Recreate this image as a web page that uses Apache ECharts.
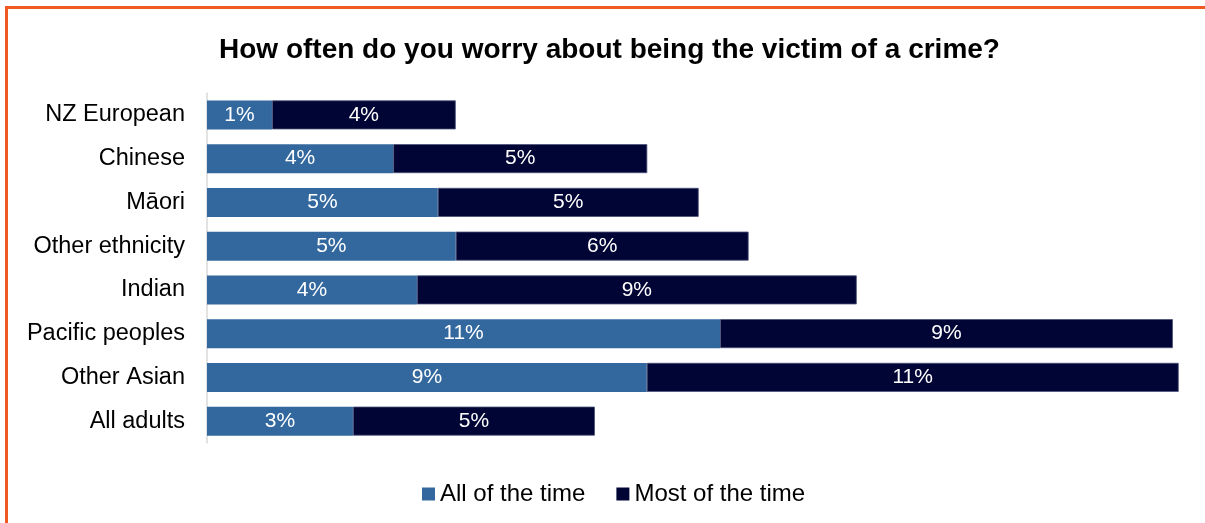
<!DOCTYPE html>
<html>
<head>
<meta charset="utf-8">
<script src="https://cdn.jsdelivr.net/npm/echarts@6/dist/echarts.min.js"></script>
<style>
html,body{margin:0;padding:0;background:#fff;}
#chart{width:1205px;height:523px;}
</style>
</head>
<body>
<div id="chart"></div>
<script>
const categories = ["NZ European","Chinese","Māori","Other ethnicity","Indian","Pacific peoples","Other Asian","All adults"];
const allOfTheTime = [1.34, 3.84, 4.76, 5.13, 4.33, 10.58, 9.07, 3.01];
const mostOfTheTime = [3.79, 5.24, 5.38, 6.04, 9.07, 9.34, 10.97, 4.99];
const seriesNames = ["All of the time","Most of the time"];

const chart = echarts.init(document.getElementById('chart'));
const font = 'Arial, "Liberation Sans", sans-serif';
const lbl = {
  show: true, position: 'inside', color: '#fff', fontSize: 21, fontFamily: font,
  formatter: p => Math.round(p.value) + '%'
};
chart.setOption({
  animation: false,
  title: {
    text: 'How often do you worry about being the victim of a crime?',
    left: 214, top: 31,
    textStyle: {fontSize: 28, fontWeight: 'bold', color: '#000', fontFamily: font}
  },
  graphic: [{
    type: 'rect', shape: {x: 6.5, y: 7.5, width: 1400, height: 700},
    style: {fill: 'none', stroke: '#F05A22', lineWidth: 3}, silent: true
  }],
  legend: {
    data: seriesNames, bottom: 12, left: 417, icon: 'rect',
    itemWidth: 13, itemHeight: 13, itemGap: 31,
    itemStyle: {borderWidth: 0},
    textStyle: {fontSize: 24, color: '#000', fontFamily: font}
  },
  grid: {left: 207, top: 93, height: 350, right: 4},
  xAxis: {type: 'value', min: 0, max: 20.5, show: false},
  yAxis: {
    type: 'category', data: categories, inverse: true,
    axisLine: {show: true, lineStyle: {color: '#d9d9d9', width: 1.5}},
    axisTick: {show: false},
    axisLabel: {fontSize: 23.5, color: '#000', fontFamily: font, margin: 22}
  },
  series: [
    {name: seriesNames[0], type: 'bar', stack: 's', data: allOfTheTime, barWidth: 29,
     itemStyle: {color: '#33689F'}, label: lbl},
    {name: seriesNames[1], type: 'bar', stack: 's', data: mostOfTheTime, barWidth: 29,
     itemStyle: {color: '#000535', borderColor: '#4a5078', borderWidth: 0.8}, label: lbl}
  ]
});
</script>
</body>
</html>
